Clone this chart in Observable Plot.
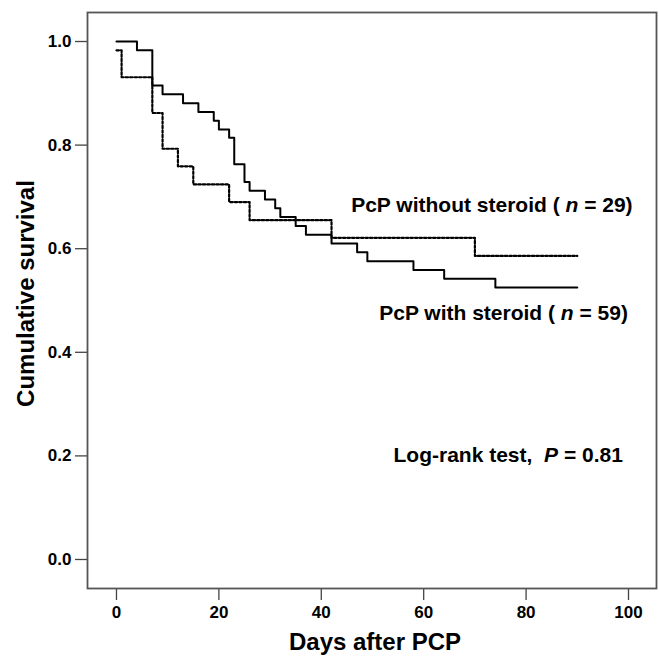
<!DOCTYPE html>
<html>
<head>
<meta charset="utf-8">
<script src="https://cdn.jsdelivr.net/npm/d3@7"></script>
<script src="https://cdn.jsdelivr.net/npm/@observablehq/plot@0.6"></script>
<style>
  html, body { margin: 0; padding: 0; background: #fff; }
  #chart svg text { white-space: pre; }
</style>
</head>
<body>
<div id="chart"></div>
<script>
// Kaplan–Meier steps
const solidDays = [0, 4, 7, 9, 13, 16, 19, 20, 22, 23, 25, 26, 29, 31, 32, 35, 37, 42, 47, 49, 58, 64, 74, 90];
const solidSurv = [1.0, 0.983, 0.915, 0.898, 0.881, 0.864, 0.847, 0.830, 0.814, 0.763, 0.729, 0.712, 0.695, 0.678, 0.661, 0.644, 0.627, 0.610, 0.593, 0.576, 0.559, 0.542, 0.525, 0.525];
const dottedDays = [0, 1, 7, 9, 12, 15, 22, 26, 42, 70, 90];
const dottedSurv = [0.983, 0.931, 0.862, 0.793, 0.759, 0.724, 0.690, 0.655, 0.621, 0.586, 0.586];

const xTicks = [0, 20, 40, 60, 80, 100];
const yTicks = [0.0, 0.2, 0.4, 0.6, 0.8, 1.0];
const labelWithout = "PcP without steroid ( n = 29)";
const labelWith = "PcP with steroid ( n = 59)";
const labelTest = "Log-rank test,  P = 0.81";
const xTitle = "Days after PCP";
const yTitle = "Cumulative survival";

const solid = solidDays.map((d, i) => ({day: d, surv: solidSurv[i]}));
const dotted = dottedDays.map((d, i) => ({day: d, surv: dottedSurv[i]}));

const chart = Plot.plot({
  width: 659,
  height: 658,
  marginLeft: 87,
  marginRight: 3,
  marginTop: 12,
  marginBottom: 70,
  style: {fontFamily: "'Liberation Sans', Arial, sans-serif", fontWeight: "bold", fontSize: "17px", color: "#000", background: "#fff"},
  x: {domain: [-5.66, 105.47]},
  y: {domain: [-0.056, 1.056]},
  marks: [
    Plot.axisX({ticks: xTicks, tickSize: 12, tickPadding: 5, label: null, stroke: "#444", strokeWidth: 1.3, fontSize: 17, fontWeight: "bold", fill: "#000"}),
    Plot.axisY({ticks: yTicks, tickFormat: ".1f", tickSize: 12, tickPadding: 4, label: null, stroke: "#444", strokeWidth: 1.3, fontSize: 17, fontWeight: "bold", fill: "#000"}),
    Plot.frame({stroke: "#555", strokeWidth: 1.8}),
    Plot.line(dotted, {x: "day", y: "surv", curve: "step-after", stroke: "#000", strokeWidth: 2.2, strokeDasharray: "2.5,2"}),
    Plot.line(solid, {x: "day", y: "surv", curve: "step-after", stroke: "#000", strokeWidth: 2}),
    Plot.dot([dotted[dotted.length - 1], solid[solid.length - 1]], {x: "day", y: "surv", symbol: "plus", r: 2, fill: "#000"}),
    Plot.text([labelWithout], {x: 100.8, y: 0.684, text: d => d, textAnchor: "end", fontSize: 21, fontWeight: "bold"}),
    Plot.text([labelWith], {x: 99.9, y: 0.476, text: d => d, textAnchor: "end", fontSize: 21, fontWeight: "bold"}),
    Plot.text([labelTest], {x: 98.9, y: 0.202, text: d => d, textAnchor: "end", fontSize: 21, fontWeight: "bold"}),
    Plot.text([xTitle], {frameAnchor: "bottom", textAnchor: "middle", lineAnchor: "middle", dx: 3, dy: 54, text: d => d, fontSize: 24, fontWeight: "bold"}),
    Plot.text([yTitle], {frameAnchor: "left", textAnchor: "middle", lineAnchor: "middle", dx: -61, dy: -7, rotate: -90, text: d => d, fontSize: 24, fontWeight: "bold"})
  ]
});

// italicise the statistical symbols (n, P)
d3.select(chart).selectAll("text").each(function () {
  if (this.querySelector("tspan")) return;
  const t = this.textContent;
  const m = t.match(/^(.*[\s(])([nP])( = .*)$/);
  if (!m) return;
  const el = d3.select(this);
  el.text(null);
  el.append("tspan").text(m[1]);
  el.append("tspan").attr("font-style", "italic").text(m[2]);
  el.append("tspan").text(m[3]);
});

document.getElementById("chart").appendChild(chart);
</script>
</body>
</html>
